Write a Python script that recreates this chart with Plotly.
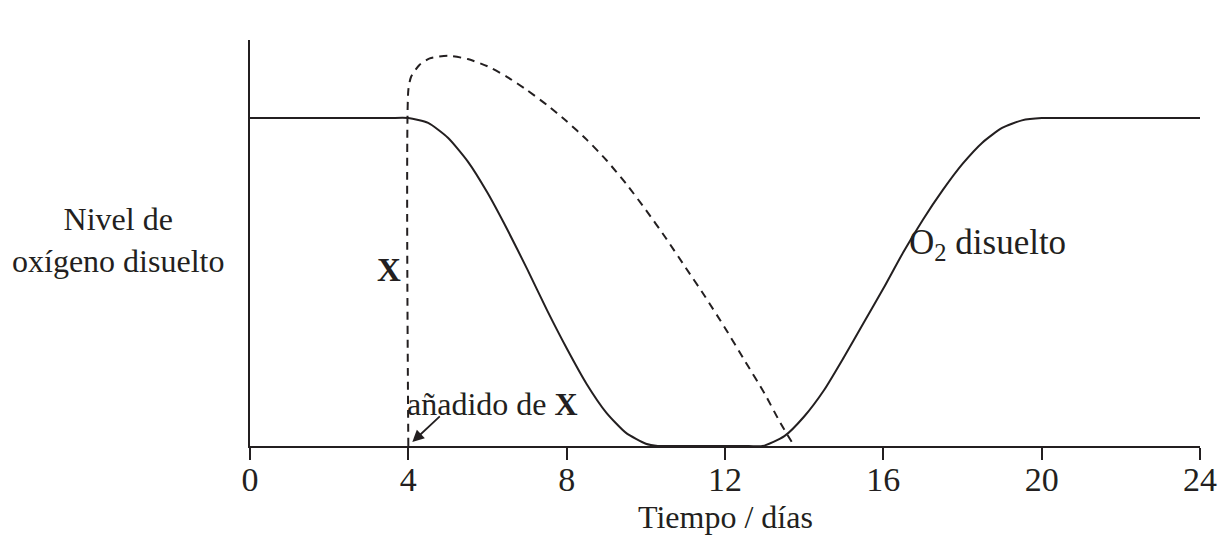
import plotly.graph_objects as go

# nivel de O2 disuelto (línea continua)
dias_o2 = [0, 3.5, 4, 4.5, 5.0, 5.5, 6.0, 6.5, 7.0, 7.5, 8.0, 8.5, 9.0, 9.5, 10.0, 10.3, 10.7,
           12.6, 12.95, 13.5, 14.0, 14.5, 15.0, 15.5, 16.0, 16.5, 17.0, 17.5, 18.0, 18.5,
           19.0, 19.5, 20.0, 20.5, 24]
nivel_o2 = [1, 1, 1, 0.985, 0.94, 0.868, 0.772, 0.66, 0.54, 0.415, 0.298, 0.19, 0.102, 0.04, 0.007, 0, 0,
            0, 0, 0.03, 0.09, 0.17, 0.27, 0.375, 0.48, 0.59, 0.69, 0.78, 0.86, 0.925,
            0.97, 0.993, 1, 1, 1]

# curva discontinua tras el añadido de X
dias_x = [4.0, 4.0, 4.07, 4.28, 4.54, 5.0, 5.5, 6.0, 6.5, 7.0, 7.5, 8.0, 8.5, 9.0,
          9.5, 10.0, 10.5, 11.0, 11.5, 12.0, 12.5, 13.0, 13.4, 13.75]
nivel_x = [0, 1.085, 1.126, 1.162, 1.182, 1.19, 1.18, 1.158, 1.125, 1.085, 1.04, 0.99, 0.935, 0.872,
           0.80, 0.72, 0.635, 0.545, 0.455, 0.36, 0.26, 0.16, 0.07, 0]

ticks = [0, 4, 8, 12, 16, 20, 24]

ink = "#231f20"
serif = "Liberation Serif"

fig = go.Figure()
fig.add_trace(go.Scatter(x=dias_x, y=nivel_x, mode="lines", cliponaxis=False,
                         line=dict(color=ink, width=2, dash="8px,6px", shape="spline", smoothing=0.6)))
fig.add_trace(go.Scatter(x=dias_o2, y=nivel_o2, mode="lines", cliponaxis=False,
                         line=dict(color=ink, width=2, shape="spline", smoothing=0.6)))

fig.add_annotation(x=0, y=0.628, xref="paper", yref="y", xanchor="center", yanchor="middle",
                   xshift=-132, text="Nivel de<br>oxígeno disuelto", showarrow=False,
                   font=dict(size=32, family=serif, color=ink))
fig.add_annotation(x=4, y=0.537, xanchor="right", yanchor="middle", xshift=-5,
                   text="<b>X</b>", showarrow=False, font=dict(size=33, family=serif, color=ink))
fig.add_annotation(x=4, y=0.128, xanchor="left", yanchor="middle", xshift=-3,
                   text="añadido de <b>X</b>", showarrow=False, font=dict(size=32, family=serif, color=ink))
fig.add_annotation(x=4.1, y=0.012, ax=29, ay=-27, text="", showarrow=True,
                   arrowhead=2, arrowsize=1.3, arrowwidth=1.8, arrowcolor=ink)
fig.add_annotation(x=16.6, y=0.613, xanchor="left", yanchor="middle",
                   text="O<sub>2</sub> disuelto", showarrow=False, font=dict(size=35, family=serif, color=ink))
fig.add_annotation(x=12, y=0, yref="paper", xanchor="center", yanchor="bottom", yshift=-90,
                   borderpad=0, text="Tiempo / días", showarrow=False,
                   font=dict(size=32, family=serif, color=ink))

fig.update_xaxes(range=[0, 24], tickvals=ticks, showline=True, linecolor=ink, linewidth=2,
                 ticks="outside", ticklen=12, tickwidth=2, tickcolor=ink, showgrid=False,
                 zeroline=False, automargin=False, ticklabelstandoff=-10,
                 tickfont=dict(size=34, family=serif, color=ink))
fig.update_yaxes(range=[0, 1.238], showline=True, linecolor=ink, linewidth=2, showticklabels=False,
                 ticks="", showgrid=False, zeroline=False, automargin=False)

# la página añade 8px de margen alrededor del gráfico
fig.update_layout(width=1210, height=528, margin=dict(l=242, r=18, t=32, b=90),
                  plot_bgcolor="white", paper_bgcolor="white", showlegend=False)

fig.write_html("out.html")
